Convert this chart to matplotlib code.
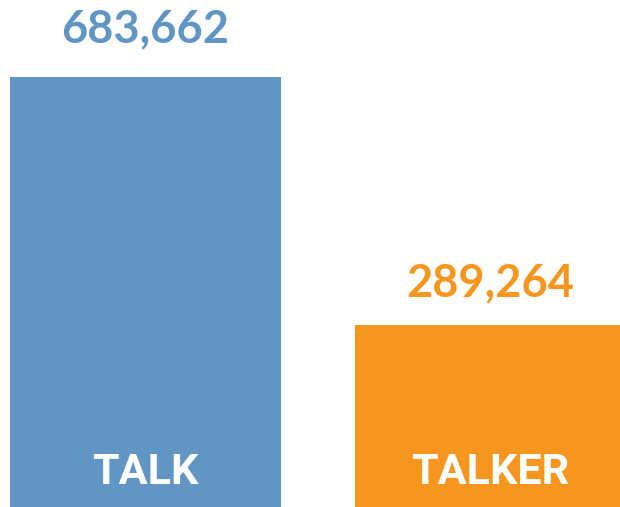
import numpy as np
import matplotlib.pyplot as plt

categories = ["TALK", "TALKER"]
values = [683662, 289264]
colors = ["#6095C4", "#F7961F"]

fig = plt.figure(figsize=(6.2, 5.07), dpi=100)
ax = fig.add_axes([0, 0, 1, 1])

x = np.arange(len(categories))
bars = ax.bar(x, values, width=0.785, color=colors)

ax.set_xlim(-0.4217, 1.3754)
ax.set_ylim(0, max(values) * 507 / 430)
ax.axis("off")

# gap between bar top and number baseline, in points
label_gaps = [25, 20.5]

for xi, v, c, cat, gap in zip(x, values, colors, categories, label_gaps):
    ax.annotate(f"{v:,}", (xi, v), xytext=(0, gap), textcoords="offset points",
                ha="center", va="baseline", fontsize=32.5, fontweight="bold",
                color=c, family="Lato")
    ax.annotate(cat, (xi, 0), xytext=(0, 16.5), textcoords="offset points",
                ha="center", va="baseline", fontsize=31, fontweight="bold",
                color="white", family="Roboto")

fig.savefig("out.png", dpi=100)
